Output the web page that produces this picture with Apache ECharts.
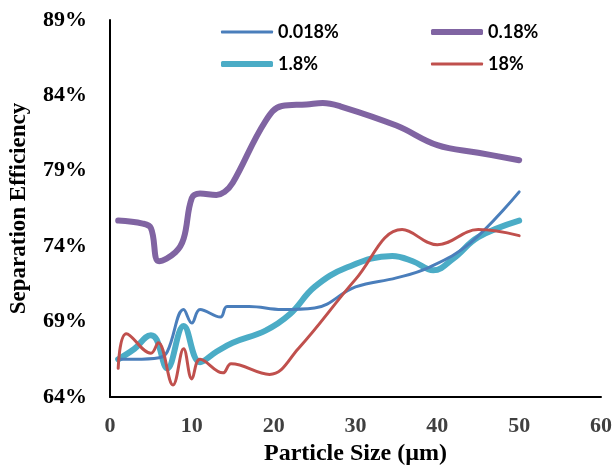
<!DOCTYPE html>
<html>
<head>
<meta charset="utf-8">
<script src="https://cdn.jsdelivr.net/npm/echarts@6/dist/echarts.min.js"></script>
<style>
  html, body { margin: 0; padding: 0; background: #fff; }
  #chart { width: 615px; height: 466px; }
</style>
</head>
<body>
<div id="chart"></div>
<script>
// particle size (um), separation efficiency (%)
var seriesNames = ['0.018%', '0.18%', '1.8%', '18%'];

var blue018 = [
  [1, 66.5], [3, 66.5], [6, 66.6], [7, 67.0], [9, 69.8], [10, 68.9], [11, 69.8],
  [13.5, 69.3], [14.3, 70.0], [17, 70.0], [21, 69.8], [25, 69.9], [30, 71.3],
  [35, 71.9], [39, 72.6], [44, 74.2], [50, 77.6]
];
var purple18 = [
  [1, 75.7], [4, 75.5], [5, 75.2], [6, 73.0], [8, 73.6], [9, 74.5], [10, 77.2],
  [11, 77.5], [13, 77.4], [14, 77.6], [15, 78.2], [19, 82.3], [21, 83.3],
  [24, 83.4], [26, 83.5], [28, 83.3], [35, 82.0], [40, 80.7], [45, 80.2], [50, 79.7]
];
var cyan18 = [
  [1, 66.5], [3, 67.2], [5, 68.1], [5.7, 67.8], [7, 65.9], [9, 68.7], [11, 66.3],
  [13, 67.0], [15, 67.6], [19, 68.4], [22, 69.5], [25, 71.3], [29, 72.6],
  [34.5, 73.35], [37, 73.0], [39.5, 72.4], [42, 73.2], [45, 74.6], [50, 75.7]
];
var red18 = [
  [1, 65.9], [2, 68.2], [5, 66.9], [5.9, 67.6], [7.7, 64.8], [9, 67.2], [10, 65.2],
  [11, 66.5], [13.8, 65.6], [14.8, 66.2], [19.5, 65.5], [23, 67.2], [30, 71.8],
  [35.7, 75.1], [40, 74.1], [45, 75.1], [50, 74.7]
];

var colors = ['#4A7EBB', '#8064A2', '#4BACC6', '#C0504D'];
var widths = [3, 6, 6, 3];
var allData = [blue018, purple18, cyan18, red18];

var chart = echarts.init(document.getElementById('chart'));

var legendPos = [
  { left: 221, top: 23 },
  { left: 431, top: 23 },
  { left: 221, top: 55 },
  { left: 431, top: 55 }
];

var option = {
  animation: false,
  grid: { left: 110, right: 14, top: 20, bottom: 69, outerBoundsMode: 'none', containLabel: false },
  legend: seriesNames.map(function (n, i) {
    return {
      data: [n],
      left: legendPos[i].left,
      top: legendPos[i].top,
      padding: 0,
      icon: 'roundRect',
      itemWidth: 52,
      itemHeight: widths[i],
      itemGap: 0,
      textStyle: { fontFamily: 'Lato, "Open Sans", sans-serif', fontWeight: 'bold', fontSize: 18, color: '#000' }
    };
  }),
  xAxis: {
    type: 'value',
    min: 0, max: 60, interval: 10,
    name: 'Particle Size (\u00b5m)',
    nameLocation: 'middle',
    nameGap: 41,
    nameTextStyle: { fontFamily: '"Liberation Serif", serif', fontWeight: 'bold', fontSize: 24, color: '#000' },
    axisLine: { lineStyle: { color: '#000', width: 2 } },
    axisTick: { show: false },
    splitLine: { show: false },
    axisLabel: { fontFamily: '"Liberation Serif", serif', fontWeight: 'bold', fontSize: 22, color: '#404040', margin: 18 }
  },
  yAxis: {
    type: 'value',
    min: 64, max: 89, interval: 5,
    name: 'Separation Efficiency',
    nameLocation: 'middle',
    nameGap: 79,
    nameTextStyle: { fontFamily: '"Liberation Serif", serif', fontWeight: 'bold', fontSize: 23, color: '#000' },
    axisLine: { show: true, lineStyle: { color: '#000', width: 2 } },
    axisTick: { show: false },
    splitLine: { show: false },
    axisLabel: {
      fontFamily: '"Liberation Serif", serif', fontWeight: 'bold', fontSize: 22, color: '#000', margin: 23,
      formatter: function (v) { return v + '%'; }
    }
  },
  series: allData.map(function (d, i) {
    return {
      name: seriesNames[i],
      type: 'line',
      data: d,
      smooth: 0.4,
      showSymbol: false,
      symbol: 'none',
      lineStyle: { color: colors[i], width: widths[i], cap: 'round' },
      itemStyle: { color: colors[i] },
      z: i === 1 || i === 2 ? 2 : 3
    };
  })
};

chart.setOption(option);
</script>
</body>
</html>
